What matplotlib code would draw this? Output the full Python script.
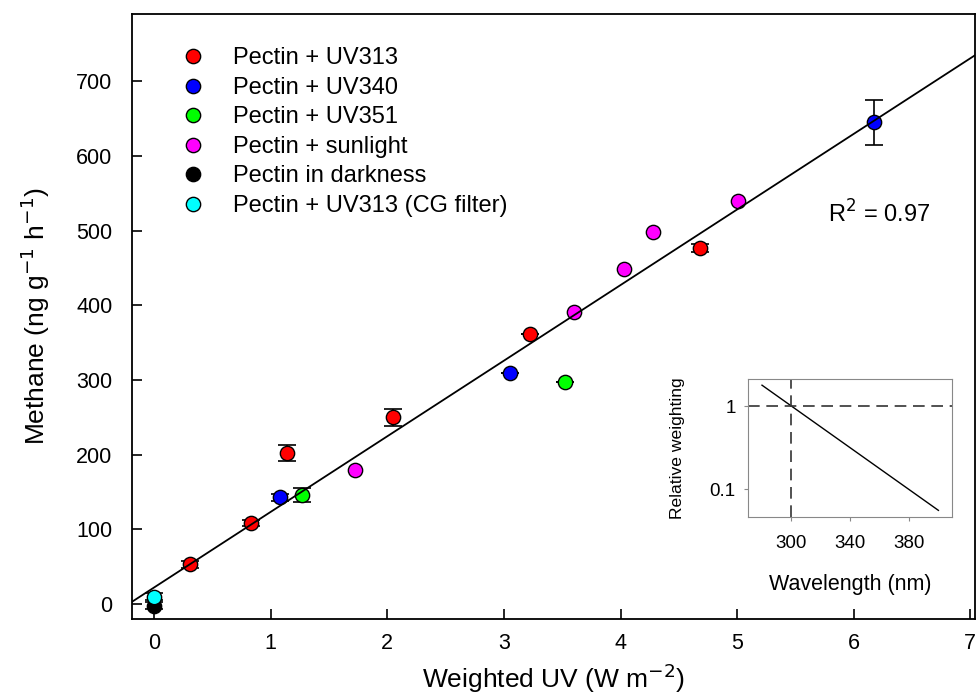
import numpy as np
import matplotlib
matplotlib.use("Agg")
import matplotlib.pyplot as plt
from matplotlib.lines import Line2D

plt.rcParams['font.family'] = ['Liberation Sans', 'DejaVu Sans']

# groups: weighted UV, methane, error
uv313_x = [0.31, 0.83, 1.14, 2.05, 3.22, 4.68]
uv313_y = [53, 109, 202, 250, 362, 477]
uv313_e = [5, 4, 11, 11, 0, 5]

uv340_x = [1.08, 3.05, 6.17]
uv340_y = [143, 310, 645]
uv340_e = [5, 0, 30]

uv351_x = [1.27, 3.52]
uv351_y = [146, 297]
uv351_e = [9, 0]

sun_x = [1.72, 3.60, 4.03, 4.28, 5.01]
sun_y = [180, 391, 449, 498, 540]

dark_x = [0.0]
dark_y = [-2]
dark_e = [5]

cg_x = [0.0]
cg_y = [10]
cg_e = [5]

fit_slope = 101.2
fit_intercept = 22.3
r2 = 0.97

# inset: relative weighting vs wavelength
wl = [280, 400]
weighting = [1.8, 0.056]

labels = ['Pectin + UV313', 'Pectin + UV340', 'Pectin + UV351',
          'Pectin + sunlight', 'Pectin in darkness', 'Pectin + UV313 (CG filter)']
colors = ['#ff0000', '#0000ff', '#00ff00', '#ff00ff', '#000000', '#00ffff']

fig = plt.figure(figsize=(9.8, 6.96), dpi=100)
ax = fig.add_axes([0.1347, 0.1106, 0.8602, 0.8693])

series = [(uv313_x, uv313_y, uv313_e), (uv340_x, uv340_y, uv340_e),
          (uv351_x, uv351_y, uv351_e), (sun_x, sun_y, None),
          (dark_x, dark_y, dark_e), (cg_x, cg_y, cg_e)]
for (x, y, e), c in zip(series, colors):
    if e is not None:
        ax.errorbar(x, y, yerr=e, fmt='none', ecolor='black', elinewidth=1.2,
                    capsize=6.5, capthick=1.2, zorder=2)
    ax.plot(x, y, 'o', ms=10.3, mfc=c, mec='black', mew=1, zorder=3)

xlim = (-0.19, 7.04)
xx = np.array(xlim)
ax.plot(xx, fit_intercept + fit_slope * xx, color='black', lw=1.3, zorder=4)

ax.set_xlim(xlim)
ax.set_ylim(-20, 790)
ax.set_xticks(range(0, 8))
ax.set_yticks(range(0, 800, 100))
ax.tick_params(direction='in', length=7, width=1.2, labelsize=15.5)
ax.tick_params(axis='y', pad=14)
ax.tick_params(axis='x', pad=10)
for s in ax.spines.values():
    s.set_linewidth(1.3)

ax.set_xlabel('Weighted UV (W m$^{-2}$)', fontsize=19)
ax.xaxis.set_label_coords(0.5, -0.071)
ax.set_ylabel('Methane (ng g$^{-1}$ h$^{-1}$)', fontsize=19)
ax.yaxis.set_label_coords(-0.095, 0.5)

ax.text(0.886, 0.67, 'R$^2$ = %.2f' % r2, transform=ax.transAxes, fontsize=17,
        ha='center', va='center')

handles = [Line2D([], [], ls='none', marker='o', ms=10.3, mfc=c, mec='black', mew=1)
           for c in colors]
ax.legend(handles, labels, loc='upper left', bbox_to_anchor=(0.058, 0.945),
          frameon=False, fontsize=17, handlelength=1.0, handletextpad=1.2,
          labelspacing=0.32, borderaxespad=0, borderpad=0)

# inset
ins = fig.add_axes([0.7636, 0.2572, 0.2079, 0.1976])
ins.semilogy(wl, weighting, color='black', lw=1)
ins.axhline(1, color='#333333', lw=1.2, ls=(0, (7, 4)))
ins.axvline(300, color='#333333', lw=1.2, ls=(0, (7, 4)))
ins.set_xlim(270.7, 409.3)
ins.set_ylim(0.0466, 2.11)
ins.set_xticks([300, 340, 380])
ins.set_yticks([0.1, 1])
ins.set_yticklabels(['0.1', '1'])
ins.minorticks_off()
ins.tick_params(labelsize=13.5, length=3, color='#888888')
ins.tick_params(axis='x', pad=10)
ins.tick_params(axis='y', pad=6)
for s in ins.spines.values():
    s.set_color('#888888')
ins.set_xlabel('Wavelength (nm)', fontsize=15.5, labelpad=16)
ins.set_ylabel('Relative weighting', fontsize=12.6, labelpad=18)

fig.savefig('out.png', dpi=100)
